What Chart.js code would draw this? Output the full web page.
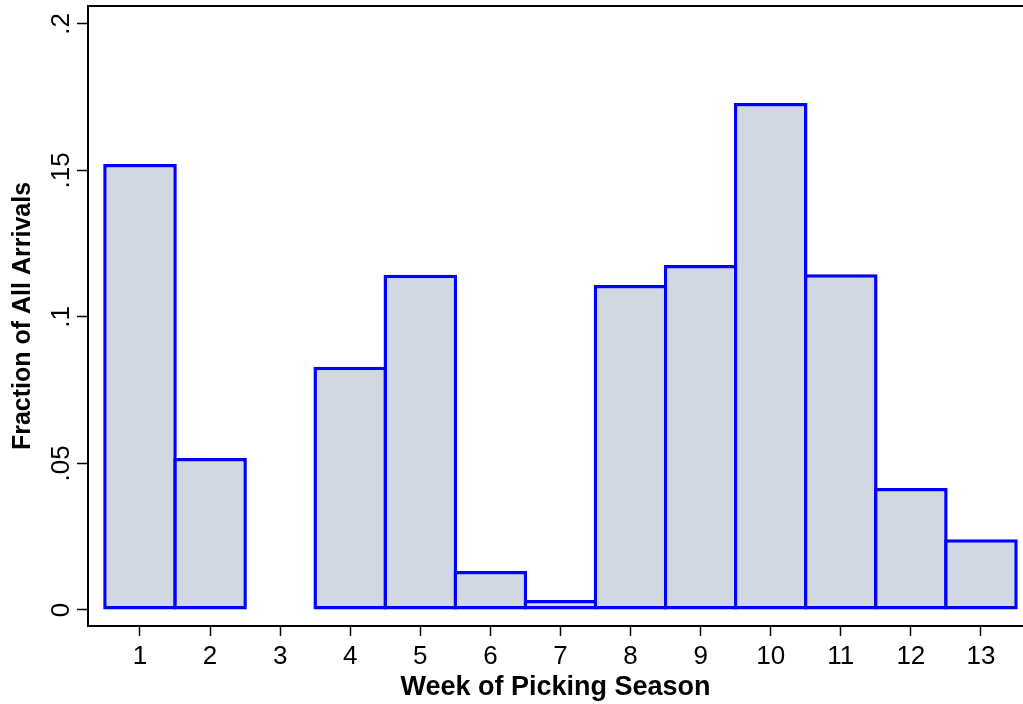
<!DOCTYPE html>
<html>
<head>
<meta charset="utf-8">
<title>Week of Picking Season</title>
<script src="https://cdn.jsdelivr.net/npm/chart.js@4.4.1/dist/chart.umd.min.js"></script>
<style>
  html, body { margin: 0; padding: 0; background: #ffffff; }
  #wrap { width: 1023px; height: 704px; }
</style>
</head>
<body>
<div id="wrap"><canvas id="c" width="1023" height="704"></canvas></div>
<script>
// Weekly share of all arrivals over the picking season
const weeks = [1, 2, 3, 4, 5, 6, 7, 8, 9, 10, 11, 12, 13];
const fractions = [0.1522, 0.0519, 0, 0.0830, 0.1144, 0.0133, 0.0034, 0.1109, 0.1177, 0.1730, 0.1146, 0.0416, 0.0241];
const yTickValues = [0, 0.05, 0.1, 0.15, 0.2];
const yTickLabels = ['0', '.05', '.1', '.15', '.2'];
const xTickValues = weeks;

const FONT = '"Liberation Sans", Arial, Helvetica, sans-serif';
const X_MIN = 0.258, X_MAX = 13.6;

Chart.defaults.font.family = FONT;
Chart.defaults.color = '#000000';

// keep the plot area flush with the axis boxes (no extra room for edge labels)
const noEdgePadding = s => {
  s.paddingTop = 0; s.paddingBottom = 0; s.paddingLeft = 0; s.paddingRight = 0;
};

new Chart(document.getElementById('c'), {
  type: 'bar',
  data: {
    datasets: [{
      data: weeks.map((w, i) => ({ x: w, y: fractions[i] })),
      backgroundColor: '#d1d7e3',
      borderColor: '#0000ff',
      borderWidth: 3.5,
      borderSkipped: false,
      // slightly wider than one week so neighbouring outlines share one edge
      barPercentage: 1.05,
      categoryPercentage: 1
    }]
  },
  options: {
    responsive: false,
    animation: false,
    devicePixelRatio: 1,
    layout: { padding: { top: 6, left: 0, right: 0, bottom: 0 } },
    plugins: { legend: { display: false }, tooltip: { enabled: false } },
    scales: {
      x: {
        type: 'linear',
        position: 'bottom',
        offset: false,
        min: X_MIN,
        max: X_MAX,
        afterBuildTicks: s => { s.ticks = xTickValues.map(v => ({ value: v })); },
        afterFit: s => { s.height = 78; noEdgePadding(s); },
        ticks: {
          autoSkip: false,
          maxRotation: 0,
          padding: 5,
          color: '#000000',
          font: { size: 26 },
          callback: v => String(v)
        },
        grid: { offset: false, drawOnChartArea: false, tickLength: 10, tickColor: '#000000', tickWidth: 1.5 },
        border: { color: '#000000', width: 2 },
        title: {
          display: true,
          text: 'Week of Picking Season',
          color: '#000000',
          font: { size: 27, weight: 'bold' },
          padding: { top: 0, bottom: 0 }
        }
      },
      xTop: {
        type: 'linear',
        position: 'top',
        offset: false,
        min: X_MIN,
        max: X_MAX,
        afterFit: s => { s.height = 0; noEdgePadding(s); },
        ticks: { display: false },
        grid: { display: false, offset: false },
        border: { display: true, color: '#000000', width: 2 }
      },
      y: {
        type: 'linear',
        position: 'left',
        min: -0.00546,
        max: 0.2061,
        afterBuildTicks: s => { s.ticks = yTickValues.map(v => ({ value: v })); },
        afterFit: s => { s.width = 88; noEdgePadding(s); },
        ticks: {
          minRotation: 90,
          maxRotation: 90,
          crossAlign: 'center',
          padding: -3,
          color: '#000000',
          font: { size: 26 },
          callback: v => yTickLabels[yTickValues.indexOf(v)]
        },
        grid: { drawOnChartArea: false, tickLength: 11, tickColor: '#000000', tickWidth: 1.5 },
        border: { color: '#000000', width: 2 },
        title: {
          display: true,
          text: 'Fraction of All Arrivals',
          color: '#000000',
          font: { size: 25, weight: 'bold' },
          padding: { top: 8, bottom: 0 }
        }
      }
    }
  }
});
</script>
</body>
</html>
